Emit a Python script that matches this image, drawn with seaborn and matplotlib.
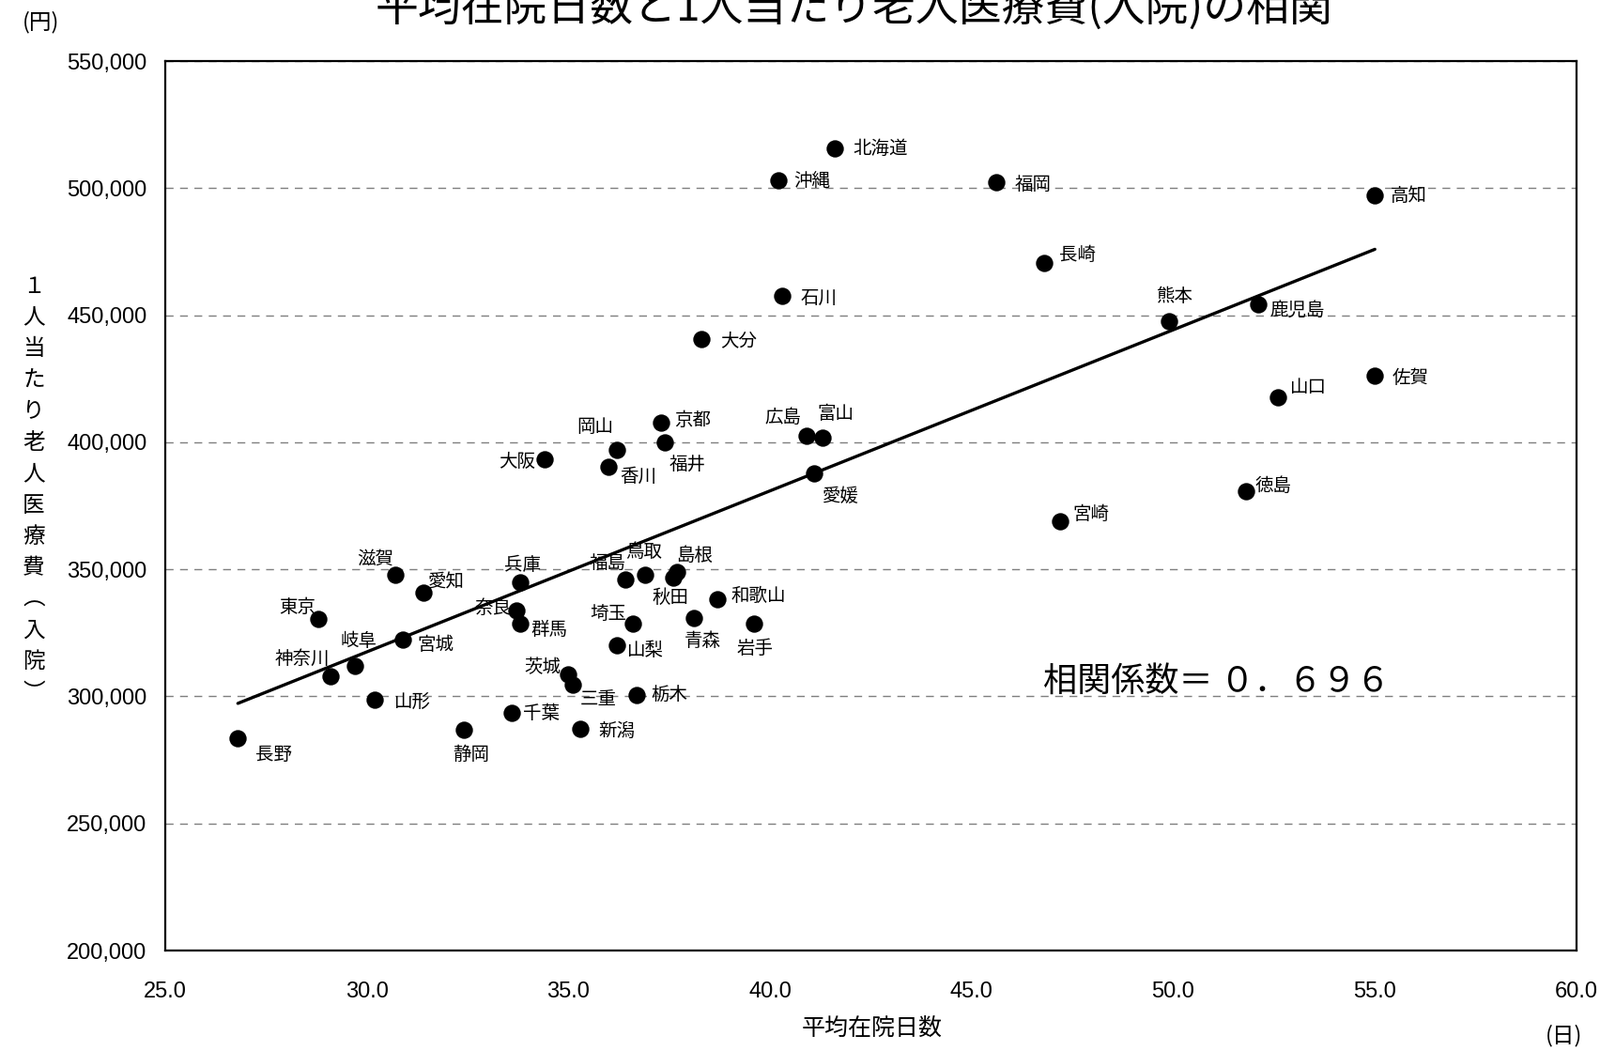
import numpy as np
import pandas as pd
import matplotlib
matplotlib.use('Agg')
import matplotlib.pyplot as plt
import seaborn as sns
from matplotlib.ticker import FuncFormatter, MultipleLocator

# data
prefs = ['北海道', '沖縄', '福岡', '高知', '長崎', '石川', '熊本', '鹿児島', '大分', '佐賀',
         '山口', '京都', '岡山', '福井', '香川', '大阪', '広島', '富山', '愛媛', '徳島',
         '宮崎', '滋賀', '愛知', '東京', '岐阜', '宮城', '神奈川', '山形', '長野', '静岡',
         '兵庫', '奈良', '群馬', '茨城', '三重', '千葉', '新潟', '福島', '鳥取', '島根',
         '秋田', '和歌山', '埼玉', '青森', '岩手', '山梨', '栃木']
stay_days = [41.6, 40.2, 45.6, 55.0, 46.8, 40.3, 49.9, 52.1, 38.3, 55.0,
             52.6, 37.3, 36.2, 37.4, 36.0, 34.4, 40.9, 41.3, 41.1, 51.8,
             47.2, 30.7, 31.4, 28.8, 29.7, 30.9, 29.1, 30.2, 26.8, 32.4,
             33.8, 33.7, 33.8, 35.0, 35.1, 33.6, 35.3, 36.4, 36.9, 37.7,
             37.6, 38.7, 36.6, 38.1, 39.6, 36.2, 36.7]
cost_yen = [515800, 503000, 502500, 497000, 470400, 457500, 447500, 454300, 440700, 426200,
            417800, 407700, 396900, 400100, 390500, 393300, 402500, 401700, 387600, 380800,
            368800, 347900, 341000, 330600, 312100, 322500, 308100, 298800, 283600, 286800,
            345000, 333800, 328600, 308500, 304500, 293600, 287200, 345900, 347900, 348900,
            346700, 338400, 328600, 330700, 328600, 320100, 300500]

# label placement (dx, dy in px, screen-down positive; anchor)
label_pos = {
    '北海道': (18, 1, 'left'), '沖縄': (15, 0, 'left'), '福岡': (18, 3, 'left'),
    '高知': (15, 0, 'left'), '長崎': (15, -8, 'left'), '石川': (18, 2, 'left'),
    '熊本': (5, -25, 'center'), '鹿児島': (12, 6, 'left'), '大分': (18, 2, 'left'),
    '佐賀': (17, 2, 'left'), '山口': (12, -9, 'left'), '京都': (13, -2, 'left'),
    '岡山': (-3, -23, 'right'), '福井': (4, 23, 'left'), '香川': (11, 10, 'left'),
    '大阪': (-9, 2, 'right'), '広島': (-5, -18, 'right'), '富山': (-5, -24, 'left'),
    '愛媛': (8, 22, 'left'), '徳島': (9, -5, 'left'), '宮崎': (12, -7, 'left'),
    '滋賀': (-1, -15, 'right'), '愛知': (5, -10, 'left'), '東京': (-3, -11, 'right'),
    '岐阜': (4, -24, 'center'), '宮城': (14, 5, 'left'), '神奈川': (-1, -17, 'right'),
    '山形': (19, 2, 'left'), '長野': (17, 16, 'left'), '静岡': (7, 24, 'center'),
    '兵庫': (2, -17, 'center'), '奈良': (-5, -2, 'right'), '群馬': (11, 6, 'left'),
    '茨城': (-7, -7, 'right'), '三重': (7, 14, 'left'), '千葉': (11, 1, 'left'),
    '新潟': (18, 2, 'left'), '福島': (1, -16, 'right'), '鳥取': (-1, -22, 'center'),
    '島根': (-1, -16, 'left'), '秋田': (-3, 20, 'center'), '和歌山': (13, -3, 'left'),
    '埼玉': (-6, -10, 'right'), '青森': (9, 22, 'center'), '岩手': (1, 24, 'center'),
    '山梨': (10, 5, 'left'), '栃木': (14, 0, 'left'),
}

df = pd.DataFrame({'pref': prefs, 'days': stay_days, 'cost': cost_yen})

sns.set_theme(style='white')
plt.rcParams['font.family'] = ['Noto Sans CJK JP', 'DejaVu Sans']

fig = plt.figure(figsize=(17.04, 11.19), dpi=100)
ax = fig.add_axes([0.1033, 0.0956, 0.882, 0.8463])

sns.regplot(data=df, x='days', y='cost', scatter=False, ci=None, truncate=True,
            color='black', line_kws={'lw': 2.4, 'zorder': 2}, ax=ax)
sns.scatterplot(data=df, x='days', y='cost', s=175, color='black', linewidth=0,
                ax=ax, zorder=3, legend=False)

k = 1704 / 1568
for name, x, y in zip(prefs, stay_days, cost_yen):
    dx, dy, ha = label_pos[name]
    ax.annotate(name, (x, y), xytext=(dx * k, -dy * k), textcoords='offset pixels',
                ha=ha, va='center', fontsize=14, color='black', zorder=4)

ax.set_xlim(25, 60)
ax.set_ylim(200000, 550000)
ax.xaxis.set_major_locator(MultipleLocator(5))
ax.yaxis.set_major_locator(MultipleLocator(50000))
ax.xaxis.set_major_formatter(FuncFormatter(lambda v, p: f'{v:.1f}'))
ax.yaxis.set_major_formatter(FuncFormatter(lambda v, p: f'{v:,.0f}'))
ax.grid(axis='y', color='#7f7f7f', linestyle=(0, (6, 5)), linewidth=1)
ax.grid(axis='x', visible=False)
ax.set_axisbelow(True)
ax.set_xlabel('')
ax.set_ylabel('')

for sp in ax.spines.values():
    sp.set_color('black')
    sp.set_linewidth(1.6)

ax.tick_params(axis='x', direction='in', length=10, width=1, color='black', pad=24)
ax.tick_params(axis='y', direction='in', length=5, width=1, color='black', pad=14)
for lab in ax.get_xticklabels() + ax.get_yticklabels():
    lab.set_family(['Liberation Sans', 'DejaVu Sans'])
    lab.set_fontsize(17)
    lab.set_color('black')

ax.text(0.622, 0.302, '相関係数＝ ０．６９６', transform=ax.transAxes,
        fontsize=26, ha='left', va='center', color='black')

W, H = 1704, 1119
fig.text(910 / W, 1 - 22 / H, '平均在院日数と1人当たり老人医療費(入院)の相関',
         ha='center', va='baseline', fontsize=33, color='black')
fig.text(44 / W, 1 - 24 / H, '(円)', ha='center', va='center', fontsize=17, color='black')
fig.text(1666 / W, 1 - 1103 / H, '(日)', ha='center', va='center', fontsize=17, color='black')
fig.text(929 / W, 1 - 1095 / H, '平均在院日数', ha='center', va='center', fontsize=18, color='black')

ylab_chars = ['１', '人', '当', 'た', 'り', '老', '人', '医', '療', '費', '︵', '入', '院', '︶']
for ch, yy in zip(ylab_chars, np.linspace(305, 738, len(ylab_chars))):
    fig.text(36 / W, 1 - yy / H, ch, ha='center', va='center', fontsize=17, color='black')

fig.savefig('out.png', dpi=100)
